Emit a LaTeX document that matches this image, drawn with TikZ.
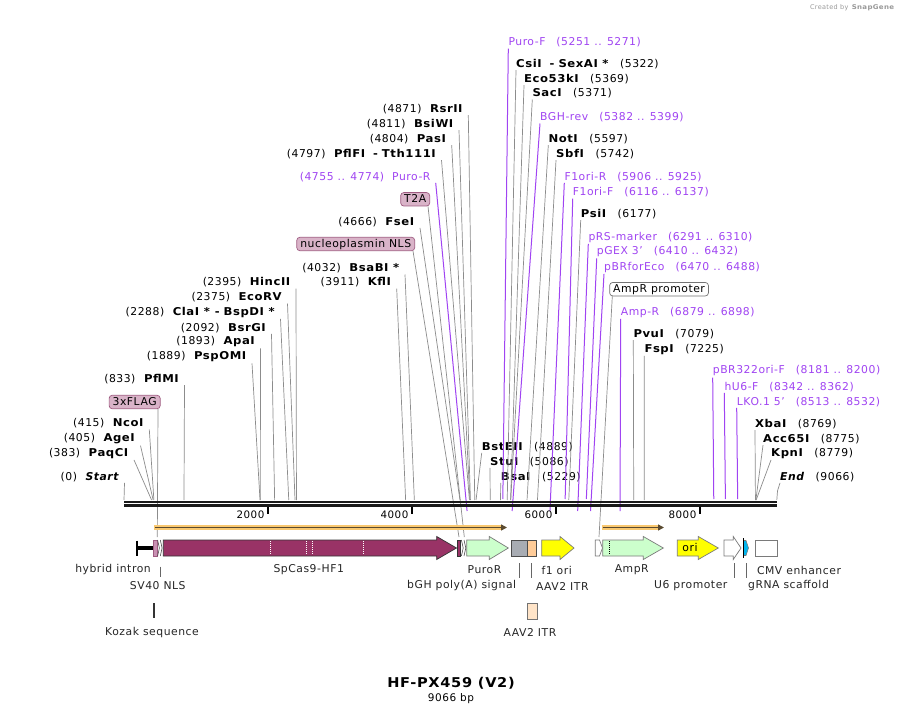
\documentclass[tikz,border=0pt]{standalone}
\usepackage{fontspec}
\setmainfont{DejaVu Sans}[LetterSpace=5,BoldFeatures={FakeStretch=1.08}]
\usepackage{xcolor}
\usetikzlibrary{calc,arrows.meta}
\definecolor{primc}{HTML}{A044F2}
\definecolor{sitel}{HTML}{8C8C8C}
\definecolor{cas9c}{HTML}{993366}
\definecolor{lgreen}{HTML}{CCFFCC}
\definecolor{yelc}{HTML}{FFFF00}
\definecolor{bghc}{HTML}{A8ACB3}
\definecolor{itrc}{HTML}{FFCC99}
\definecolor{itrl}{HTML}{FFE4C8}
\definecolor{gcyan}{HTML}{00B6EF}
\definecolor{tagc}{HTML}{D9B3C8}
\definecolor{tagd}{HTML}{9E5A80}
\definecolor{flagc}{HTML}{C990B2}
\definecolor{orfband}{HTML}{F9C870}
\definecolor{orfline}{HTML}{5A4A30}
\definecolor{featd}{HTML}{7A7A7A}
\newcommand{\lblfont}{\fontsize{10.8}{13}\selectfont}
\newcommand{\bpx}[1]{124+0.072*#1}
\newcommand{\lgap}{\hspace{8pt}}
\newcommand{\rgap}{\hspace{11pt}}
\tikzset{
  lsite/.style={anchor=east,inner xsep=5pt,inner ysep=1.2pt,font=\lblfont},
  rsite/.style={anchor=west,inner xsep=0pt,inner ysep=1.2pt,font=\lblfont},
  lprim/.style={lsite,text=primc},
  rprim/.style={rsite,text=primc},
  ftag/.style={draw=tagd,fill=tagc,rounded corners=3pt,inner xsep=3.5pt,inner ysep=1.7pt,
    text height=8.2pt,text depth=1.8pt,font=\lblfont,line width=0.7pt},
  cut/.style={sitel,line width=0.7pt},
  pline/.style={primc,line width=1pt},
  feat/.style={draw=featd,line width=0.7pt},
  flab/.style={font=\lblfont,inner sep=1pt,text=black!85},
  flick/.style={black!60,line width=0.7pt},
  orf/.style={orfline,line width=1.6pt,-{Triangle[length=6pt,width=6pt]}}
}
\begin{document}
\begin{tikzpicture}[x=1pt,y=-1pt]
\useasboundingbox (0,0) rectangle (902,714);
\fill[white] (0,0) rectangle (902,714);
\node[anchor=east,font=\fontsize{6.5}{8}\selectfont,text=black!40] (logo) at (898,7.5) {Created by\hspace{3pt}\textbf{SnapGene}};

% restriction sites, left stacks
\node[lsite] (rsrii) at (468.3,109) {(4871)\lgap\textbf{RsrII}};
\node[lsite] (bsiwi) at (459,124) {(4811)\lgap\textbf{BsiWI}};
\node[lsite] (pasi) at (451.7,139) {(4804)\lgap\textbf{PasI}};
\node[lsite] (pflfi) at (441.5,154) {(4797)\lgap\textbf{PflFI\hspace{8pt}-\hspace{4pt}Tth111I}};
\node[lsite] (fsei) at (420,221.7) {(4666)\lgap\textbf{FseI}};
\node[lsite] (bsabi) at (405,268.3) {(4032)\lgap\textbf{BsaBI *}};
\node[lsite] (kfli) at (396.7,282.3) {(3911)\lgap\textbf{KflI}};
\node[lsite] (hincii) at (296,282.3) {(2395)\lgap\textbf{HincII}};
\node[lsite] (ecorv) at (287.5,297.3) {(2375)\lgap\textbf{EcoRV}};
\node[lsite] (clai) at (280.5,312.3) {(2288)\lgap\textbf{ClaI *\hspace{5pt}-\hspace{4pt}BspDI *}};
\node[lsite] (bsrgi) at (271.5,327.7) {(2092)\lgap\textbf{BsrGI}};
\node[lsite] (apai) at (260.5,341.7) {(1893)\lgap\textbf{ApaI}};
\node[lsite] (pspomi) at (252,356.7) {(1889)\lgap\textbf{PspOMI}};
\node[lsite] (pflmi) at (184.5,379) {(833)\lgap\textbf{PflMI}};
\node[lsite] (ncoi) at (149.3,423.3) {(415)\lgap\textbf{NcoI}};
\node[lsite] (agei) at (140.5,439) {(405)\lgap\textbf{AgeI}};
\node[lsite] (paqci) at (134,453.3) {(383)\lgap\textbf{PaqCI}};
\node[lsite] (startl) at (124.5,476.7) {(0)\lgap\textbf{\textit{Start}}};

% restriction sites, right stacks
\node[rsite] (csii) at (516,64) {\textbf{CsiI\hspace{8pt}-\hspace{4pt}SexAI *}\rgap(5322)};
\node[rsite] (ecoki) at (524,79) {\textbf{Eco53kI}\rgap(5369)};
\node[rsite] (saci) at (532.3,93.3) {\textbf{SacI}\rgap(5371)};
\node[rsite] (noti) at (548.3,139) {\textbf{NotI}\rgap(5597)};
\node[rsite] (sbfi) at (556,154) {\textbf{SbfI}\rgap(5742)};
\node[rsite] (psii) at (580.7,214) {\textbf{PsiI}\rgap(6177)};
\node[rsite] (pvui) at (633.3,334) {\textbf{PvuI}\rgap(7079)};
\node[rsite] (fspi) at (644.3,349.3) {\textbf{FspI}\rgap(7225)};
\node[rsite] (xbai) at (755,424) {\textbf{XbaI}\rgap(8769)};
\node[rsite] (acci) at (763,439) {\textbf{Acc65I}\rgap(8775)};
\node[rsite] (kpni) at (771,453.3) {\textbf{KpnI}\rgap(8779)};
\node[rsite] (endl) at (780,476.7) {\textbf{\textit{End}}\rgap(9066)};
\node[rsite] (bsteii) at (481.7,446.7) {\textbf{BstEII}\rgap(4889)};
\node[rsite] (stui) at (490,461.7) {\textbf{StuI}\rgap(5086)};
\node[rsite] (bsai) at (500.7,476.7) {\textbf{BsaI}\rgap(5229)};

% primers
\node[lprim] (puror) at (435.7,176.7) {(4755 .. 4774)\lgap Puro-R};
\node[rprim] (purof) at (508.3,42.3) {Puro-F\rgap(5251 .. 5271)};
\node[rprim] (bghrev) at (540,117.3) {BGH-rev\rgap(5382 .. 5399)};
\node[rprim] (foriR) at (564.3,176.7) {F1ori-R\rgap(5906 .. 5925)};
\node[rprim] (foriF) at (572.7,192.3) {F1ori-F\rgap(6116 .. 6137)};
\node[rprim] (prsm) at (588.3,237.3) {pRS-marker\rgap(6291 .. 6310)};
\node[rprim] (pgex) at (596.7,251.7) {pGEX 3'\rgap(6410 .. 6432)};
\node[rprim] (pbreco) at (604,267.3) {pBRforEco\rgap(6470 .. 6488)};
\node[rprim] (ampRp) at (620.7,312.3) {Amp-R\rgap(6879 .. 6898)};
\node[rprim] (pbrori) at (712.7,371) {pBR322ori-F\rgap(8181 .. 8200)};
\node[rprim] (hufF) at (724.3,386.7) {hU6-F\rgap(8342 .. 8362)};
\node[rprim] (lko) at (736.7,401.7) {LKO.1 5'\rgap(8513 .. 8532)};

% feature tags
\node[ftag,anchor=east] (t2a) at (430,199.3) {T2A};
\node[ftag,anchor=east] (nls) at (415,244) {nucleoplasmin NLS};
\node[ftag,anchor=east] (flag) at (160.5,402) {3xFLAG};
\node[ftag,anchor=west,fill=white,draw=black!55] (ampprom) at (609.3,289.2) {AmpR promoter};

% site points on the axis
\coordinate (rsriiS) at (\bpx{4871},500);
\coordinate (bsiwiS) at (\bpx{4811},500);
\coordinate (pasiS) at (\bpx{4804},500);
\coordinate (pflfiS) at (\bpx{4797},500);
\coordinate (fseiS) at (\bpx{4666},500);
\coordinate (bsabiS) at (\bpx{4032},500);
\coordinate (kfliS) at (\bpx{3911},500);
\coordinate (hinciiS) at (\bpx{2395},500);
\coordinate (ecorvS) at (\bpx{2375},500);
\coordinate (claiS) at (\bpx{2288},500);
\coordinate (bsrgiS) at (\bpx{2092},500);
\coordinate (apaiS) at (\bpx{1893},500);
\coordinate (pspomiS) at (\bpx{1889},500);
\coordinate (pflmiS) at (\bpx{833},500);
\coordinate (ncoiS) at (\bpx{415},500);
\coordinate (ageiS) at (\bpx{405},500);
\coordinate (paqciS) at (\bpx{383},500);
\coordinate (startS) at (124,500);
\coordinate (csiiS) at (\bpx{5322},500);
\coordinate (ecokiS) at (\bpx{5369},500);
\coordinate (saciS) at (\bpx{5371},500);
\coordinate (notiS) at (\bpx{5597},500);
\coordinate (sbfiS) at (\bpx{5742},500);
\coordinate (psiiS) at (\bpx{6177},500);
\coordinate (pvuiS) at (\bpx{7079},500);
\coordinate (fspiS) at (\bpx{7225},500);
\coordinate (xbaiS) at (\bpx{8769},500);
\coordinate (acciS) at (\bpx{8775},500);
\coordinate (kpniS) at (\bpx{8779},500);
\coordinate (endS) at (\bpx{9066},500);
\coordinate (bsteiiS) at (\bpx{4889},500);
\coordinate (stuiS) at (\bpx{5086},500);
\coordinate (bsaiS) at (\bpx{5229},500);

\coordinate (t2aS) at (464.3,537);
\coordinate (nlsS) at (459,537);
\coordinate (flagS) at (157.3,537);
\coordinate (amppromS) at (599,537);

\coordinate (purorS) at (\bpx{4764.5},511);
\coordinate (purofS) at (\bpx{5261},499);
\coordinate (bghrevS) at (\bpx{5390.5},511);
\coordinate (foriRS) at (\bpx{5915.5},511);
\coordinate (foriFS) at (\bpx{6126.5},499);
\coordinate (prsmS) at (\bpx{6300.5},511);
\coordinate (pgexS) at (\bpx{6421},499);
\coordinate (pbrecoS) at (\bpx{6479},511);
\coordinate (ampRpS) at (\bpx{6888.5},511);
\coordinate (pbroriS) at (\bpx{8190.5},499);
\coordinate (hufFS) at (\bpx{8352},499);
\coordinate (lkoS) at (\bpx{8522.5},499);

% connectors
\draw[cut] (rsrii.south east) -- (rsriiS);
\draw[cut] (bsiwi.south east) -- (bsiwiS);
\draw[cut] (pasi.south east) -- (pasiS);
\draw[cut] (pflfi.south east) -- (pflfiS);
\draw[cut] (fsei.south east) -- (fseiS);
\draw[cut] (bsabi.south east) -- (bsabiS);
\draw[cut] (kfli.south east) -- (kfliS);
\draw[cut] (hincii.south east) -- (hinciiS);
\draw[cut] (ecorv.south east) -- (ecorvS);
\draw[cut] (clai.south east) -- (claiS);
\draw[cut] (bsrgi.south east) -- (bsrgiS);
\draw[cut] (apai.south east) -- (apaiS);
\draw[cut] (pspomi.south east) -- (pspomiS);
\draw[cut] (pflmi.south east) -- (pflmiS);
\draw[cut] (ncoi.south east) -- (ncoiS);
\draw[cut] (agei.south east) -- (ageiS);
\draw[cut] (paqci.south east) -- (paqciS);
\draw[cut] (startl.south east) -- (startS);
\draw[cut] (csii.south west) -- (csiiS);
\draw[cut] (ecoki.south west) -- (ecokiS);
\draw[cut] (saci.south west) -- (saciS);
\draw[cut] (noti.south west) -- (notiS);
\draw[cut] (sbfi.south west) -- (sbfiS);
\draw[cut] (psii.south west) -- (psiiS);
\draw[cut] (pvui.south west) -- (pvuiS);
\draw[cut] (fspi.south west) -- (fspiS);
\draw[cut] (xbai.south west) -- (xbaiS);
\draw[cut] (acci.south west) -- (acciS);
\draw[cut] (kpni.south west) -- (kpniS);
\draw[cut] (endl.south west) -- ++(-2.5,8) -- (endS);
\draw[cut] (bsteii.south west) -- (bsteiiS);
\draw[cut] (stui.south west) -- (stuiS);
\draw[cut] (bsai.south west) -- (bsaiS);
\draw[cut] ([shift={(-2,0)}]t2a.south east) -- (t2aS);
\draw[cut] ([shift={(-2,0)}]nls.south east) -- (nlsS);
\draw[cut] ([shift={(-2.5,0)}]flag.south east) -- (flagS);
\draw[cut] ([shift={(3,0)}]ampprom.south west) -- (amppromS);

\draw[pline] (puror.south east) -- (purorS);
\draw[pline] (purof.south west) -- (purofS);
\draw[pline] (bghrev.south west) -- (bghrevS);
\draw[pline] (foriR.south west) -- (foriRS);
\draw[pline] (foriF.south west) -- (foriFS);
\draw[pline] (prsm.south west) -- (prsmS);
\draw[pline] (pgex.south west) -- (pgexS);
\draw[pline] (pbreco.south west) -- (pbrecoS);
\draw[pline] (ampRp.south west) -- (ampRpS);
\draw[pline] (pbrori.south west) -- (pbroriS);
\draw[pline] (hufF.south west) -- (hufFS);
\draw[pline] (lko.south west) -- (lkoS);

% sequence axis and ticks
\draw[black!90,line width=2.6pt] (124,502) -- (\bpx{9066},502);
\draw[black!90,line width=2.6pt] (124,505.7) -- (\bpx{9066},505.7);
\draw[line width=1.6pt] (\bpx{2000},506.5) -- (\bpx{2000},513.5);
\draw[line width=1.6pt] (\bpx{4000},506.5) -- (\bpx{4000},513.5);
\draw[line width=1.6pt] (\bpx{6000},506.5) -- (\bpx{6000},513.5);
\draw[line width=1.6pt] (\bpx{8000},506.5) -- (\bpx{8000},513.5);
\node[anchor=east,font=\fontsize{10.3}{12}\selectfont,inner sep=1pt] (t2k) at (\bpx{2000}-2.5,514.3) {2000};
\node[anchor=east,font=\fontsize{10.3}{12}\selectfont,inner sep=1pt] (t4k) at (\bpx{4000}-2.5,514.3) {4000};
\node[anchor=east,font=\fontsize{10.3}{12}\selectfont,inner sep=1pt] (t6k) at (\bpx{6000}-2.5,514.3) {6000};
\node[anchor=east,font=\fontsize{10.3}{12}\selectfont,inner sep=1pt] (t8k) at (\bpx{8000}-2.5,514.3) {8000};

% open reading frames
\draw[orfband,line width=5.5pt] (154,527.5) -- (503,527.5);
\draw[orf] (155,527.5) -- (507,527.5);
\draw[orfband,line width=5.5pt] (601.5,527.5) -- (660,527.5);
\draw[orf] (602.5,527.5) -- (664,527.5);

% features
\draw[black,line width=4pt] (137,548) -- (153.5,548);
\draw[black,line width=1.5pt] (137,540.5) -- (137,555.5);
\draw[draw=tagd,fill=flagc,line width=0.7pt] (153.5,540) rectangle (157.3,556);
\draw[black!70,line width=0.6pt] (157.6,540) -- (159.4,548) -- (157.6,556);
\draw[black!70,line width=0.6pt] (160.3,540) -- (162.1,548) -- (160.3,556);
\draw[draw=black!80,fill=cas9c,line width=0.7pt] (163.3,540) -- (436.7,540) -- (436.7,536.5) -- (456.5,548) -- (436.7,559.5) -- (436.7,556) -- (163.3,556) -- cycle;
\draw[white,line width=0.8pt,dash pattern=on 1pt off 1pt] (270.7,541) -- (270.7,555);
\draw[white,line width=0.8pt,dash pattern=on 1pt off 1pt] (306,541) -- (306,555);
\draw[white,line width=0.8pt,dash pattern=on 1pt off 1pt] (312.7,541) -- (312.7,555);
\draw[white,line width=0.8pt,dash pattern=on 1pt off 1pt] (363.3,541) -- (363.3,555);
\draw[draw=black!80,fill=cas9c,line width=0.7pt] (457.3,540) rectangle (460.8,556);
\draw[black!70,line width=0.6pt] (461.4,540) -- (463.2,548) -- (461.4,556);
\draw[black!70,line width=0.6pt] (464,540) -- (465.8,548) -- (464,556);
\draw[feat,fill=lgreen] (466.7,540) -- (489.3,540) -- (489.3,536.5) -- (508.3,548) -- (489.3,559.5) -- (489.3,556) -- (466.7,556) -- cycle;
\draw[feat,draw=black!70,fill=bghc] (511.7,540) rectangle (527.3,556);
\draw[feat,draw=black!70,fill=itrc] (527.3,540) rectangle (536.7,556);
\draw[feat,fill=yelc] (541.7,540) -- (560,540) -- (560,536.5) -- (574,548) -- (560,559.5) -- (560,556) -- (541.7,556) -- cycle;
\draw[feat,fill=white] (595.3,540) -- (599.5,540) -- (602.5,548) -- (599.5,556) -- (595.3,556) -- cycle;
\draw[feat,fill=lgreen] (602.7,540) -- (643.3,540) -- (643.3,536.5) -- (663.3,548) -- (643.3,559.5) -- (643.3,556) -- (602.7,556) -- cycle;
\draw[black,line width=0.7pt,dash pattern=on 1pt off 1pt] (609.3,541) -- (609.3,555);
\draw[feat,fill=yelc] (677.3,540) -- (698.3,540) -- (698.3,536.5) -- (718.3,548) -- (698.3,559.5) -- (698.3,556) -- (677.3,556) -- cycle;
\node[font=\lblfont,inner sep=0pt] (orilab) at (690,547.5) {ori};
\draw[feat,fill=white] (724,540) -- (733.3,540) -- (733.3,536.5) -- (741,548) -- (733.3,559.5) -- (733.3,556) -- (724,556) -- cycle;
\draw[draw=featd,fill=gcyan,line width=0.6pt] (743.5,540.5) -- (746,540.5) -- (748.5,548) -- (746,555.5) -- (743.5,555.5) -- cycle;
\draw[black,line width=0.9pt] (743.5,538) -- (743.5,558);
\draw[feat,fill=white] (755,540) rectangle (777.7,556);
\draw[feat,draw=black!55,fill=itrl] (527.3,603.3) rectangle (537.3,619.3);

% feature labels
\node[flab] (hyb) at (113,570) {hybrid intron};
\node[flab] (cas9) at (308.7,570) {SpCas9-HF1};
\node[flab] (purol) at (484.5,570) {PuroR};
\node[flab] (f1l) at (556.7,570) {f1 ori};
\node[flab] (ampl) at (631.7,570) {AmpR};
\node[flab] (cmvl) at (799,570) {CMV enhancer};
\node[flab] (sv40) at (157.8,586) {SV40 NLS};
\node[flab] (bghl) at (461.7,586) {bGH poly(A) signal};
\node[flab] (itrl1) at (562.3,586) {AAV2 ITR};
\node[flab] (u6l) at (690.8,586) {U6 promoter};
\node[flab] (grnal) at (788.5,586) {gRNA scaffold};
\node[flab] (kozak) at (152,632.7) {Kozak sequence};
\node[flab] (itrl2) at (530,632.7) {AAV2 ITR};
\draw[flick] (160,566.7) -- (160,577);
\draw[flick] (519,563.3) -- (519,578.3);
\draw[flick] (531.7,563.3) -- (531.7,578.3);
\draw[flick] (734,563.3) -- (734,578.3);
\draw[flick] (746.7,563.3) -- (746.7,578.3);
\draw[black!80,line width=1.5pt] (154,603.3) -- (154,618.3);

% title
\node[font=\fontsize{13.5}{16}\selectfont\bfseries] (title) at (451,683.3) {HF-PX459 (V2)};
\node[font=\fontsize{10.5}{12}\selectfont] (bplen) at (451,698.3) {9066 bp};
\end{tikzpicture}
\end{document}
